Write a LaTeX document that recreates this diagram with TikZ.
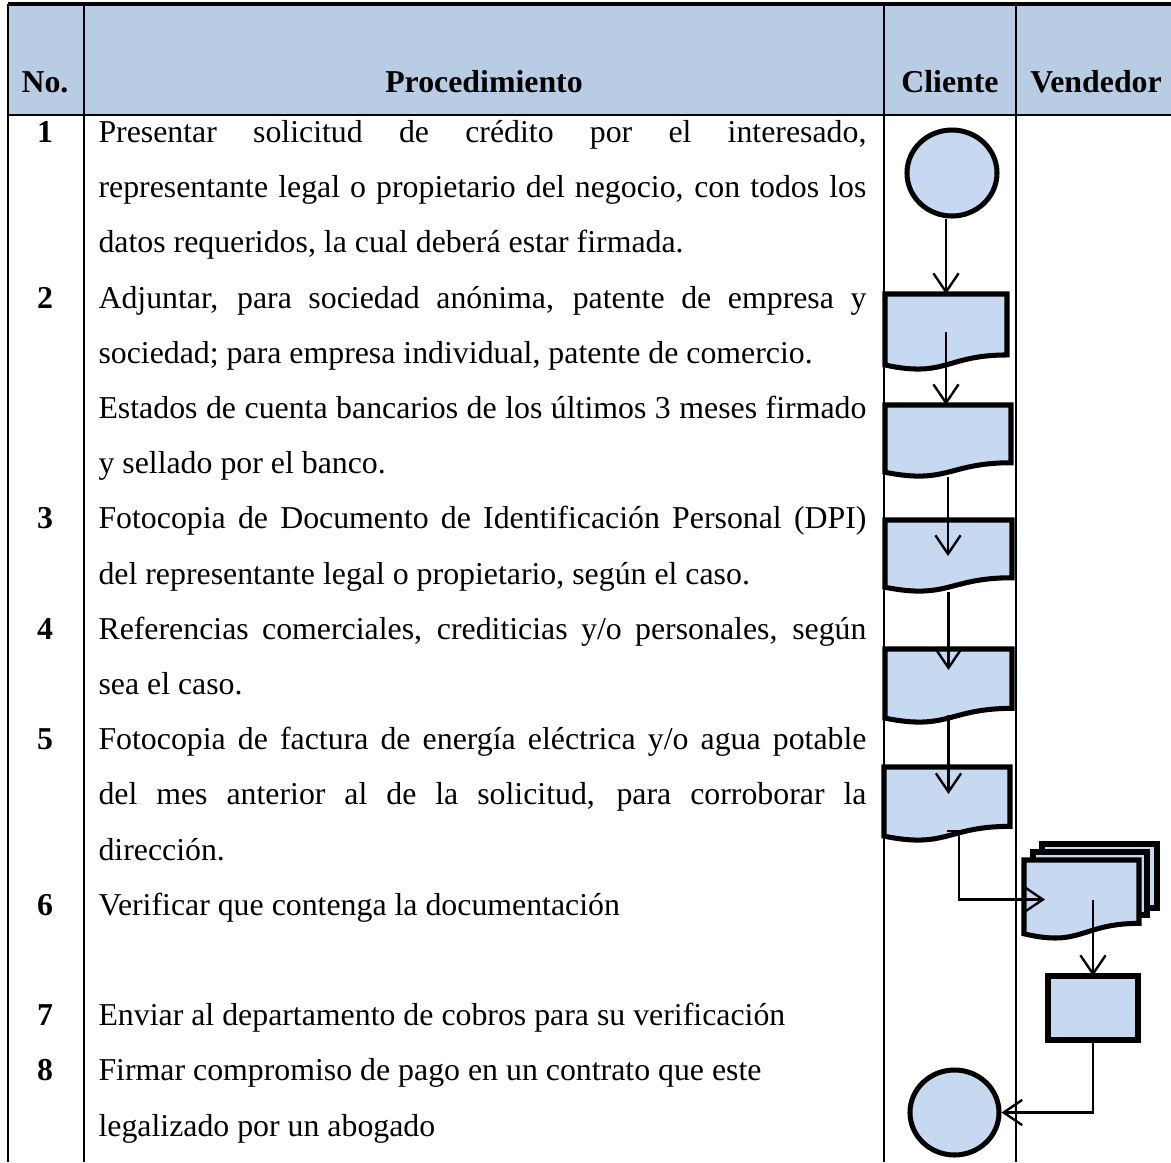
\documentclass[tikz,border=0pt]{standalone}
\usepackage{fontspec}
\setmainfont{Liberation Serif}
\usetikzlibrary{arrows.meta,calc,shapes.geometric}

\definecolor{headblue}{HTML}{B8CCE4}
\definecolor{shapeblue}{HTML}{C6D9F1}

\def\pxu{0.377pt}
\newcommand{\tf}{\fontsize{12}{14}\selectfont}
\newlength\jw
\setlength\jw{289.5pt}
\newcommand{\jl}[1]{\makebox[\jw][s]{#1}}
% document symbol with wavy bottom, drawn on a box node
\newcommand{\wavedoc}[1]{%
  \draw[shapeline] (#1.north west) -- (#1.north east)
    -- ($(#1.north east)!.802!(#1.south east)$)
    .. controls ($(#1.north)!.802!(#1.south)$) and ($(#1.north)!1.1075!(#1.south)$)
    .. ($(#1.north west)!.934!(#1.south west)$) -- cycle;}

\begin{document}
\begin{tikzpicture}[x=0.377pt,y=-0.377pt,
	rule/.style={line width=0.75pt},
	toprule/.style={line width=1.2pt},
	txt/.style={anchor=base west,inner sep=0pt,font=\tf},
	num/.style={anchor=base,inner sep=0pt,font=\tf\bfseries},
	head/.style={anchor=base,inner sep=0pt,font=\tf\bfseries},
	shapeline/.style={draw,line width=1.9pt,fill=shapeblue},
	docbox/.style 2 args={rectangle,inner sep=0pt,outer sep=0pt,minimum width=#1*\pxu,minimum height=#2*\pxu},
	endpt/.style 2 args={ellipse,shapeline,inner sep=0pt,minimum width=#1*\pxu,minimum height=#2*\pxu},
	flow/.style={line width=0.9pt,-{Straight Barb[length=7pt,width=9.5pt]}}]
		\useasboundingbox (0,0) rectangle (1171,1162);
		
		% table
		\fill[headblue] (8,4) rectangle (1171,115);
		\draw[toprule] (8,4) -- (1171,4);
		\draw[rule] (8,115) -- (1171,115);
		\draw[rule] (8,4) -- (8,1162);
		\draw[rule] (84,4) -- (84,1162);
		\draw[rule] (884,4) -- (884,1162);
		\draw[rule] (1016,4) -- (1016,1162);
		
		\node[head] (hno) at (45,92) {No.};
		\node[head] (hproc) at (484,92) {Procedimiento};
		\node[head] (hcli) at (950,92) {Cliente};
		\node[head] (hven) at (1096,92) {Vendedor};
		
		\node[num] (n1) at (45,142) {1};
		\node[num] (n2) at (45,308) {2};
		\node[num] (n3) at (45,528) {3};
		\node[num] (n4) at (45,639) {4};
		\node[num] (n5) at (45,749) {5};
		\node[num] (n6) at (45,915) {6};
		\node[num] (n7) at (45,1025) {7};
		\node[num] (n8) at (45,1080) {8};
		
		\node[txt] (p1a) at (98,142) {\jl{Presentar solicitud de crédito por el interesado,}};
		\node[txt] (p1b) at (98,197) {\jl{representante legal o propietario del negocio, con todos los}};
		\node[txt] (p1c) at (98,252) {datos requeridos, la cual deberá estar firmada.};
		\node[txt] (p2a) at (98,308) {\jl{Adjuntar, para sociedad anónima, patente de empresa y}};
		\node[txt] (p2b) at (98,363) {sociedad; para empresa individual, patente de comercio.};
		\node[txt] (p2c) at (98,418) {\jl{Estados de cuenta bancarios de los últimos 3 meses firmado}};
		\node[txt] (p2d) at (98,473) {y sellado por el banco.};
		\node[txt] (p3a) at (98,528) {\jl{Fotocopia de Documento de Identificación Personal (DPI)}};
		\node[txt] (p3b) at (98,584) {del representante legal o propietario, según el caso.};
		\node[txt] (p4a) at (98,639) {\jl{Referencias comerciales, crediticias y/o personales, según}};
		\node[txt] (p4b) at (98,694) {sea el caso.};
		\node[txt] (p5a) at (98,749) {\jl{Fotocopia de factura de energía eléctrica y/o agua potable}};
		\node[txt] (p5b) at (98,804) {\jl{del mes anterior al de la solicitud, para corroborar la}};
		\node[txt] (p5c) at (98,860) {dirección.};
		\node[txt] (p6a) at (98,915) {Verificar que contenga la documentación};
		\node[txt] (p7a) at (98,1025) {Enviar al departamento de cobros para su verificación};
		\node[txt] (p8a) at (98,1080) {Firmar compromiso de pago en un contrato que este};
		\node[txt] (p8b) at (98,1136) {legalizado por un abogado};
		
		% flow symbols
		\node[endpt={90}{86}] (s) at (952,173) {};
		\node[docbox={122}{76}] (d1) at (946,332) {};
		\node[docbox={126}{72}] (d2) at (948,441) {};
		\node[docbox={127}{72}] (d3) at (948.5,556) {};
		\node[docbox={127}{74}] (d4) at (948.5,686) {};
		\node[docbox={126}{74}] (d5) at (947,804) {};
		\wavedoc{d1}
		\wavedoc{d2}
		\wavedoc{d3}
		\wavedoc{d4}
		\wavedoc{d5}
		
		\node[shapeline,docbox={115}{64}] (m3) at (1099.5,876) {};
		\node[shapeline,docbox={114}{63}] (m2) at (1090,883.5) {};
		\node[docbox={115}{79}] (m) at (1081.5,899.5) {};
		\wavedoc{m}
		\node[shapeline,docbox={90}{64}] (r) at (1093,1008) {};
		\node[endpt={89}{85}] (e) at (954.5,1112.5) {};
		
		% connectors
		\draw[flow] (s.south -| d1.north) -- (d1.north);
		\draw[flow] (d1.center) -- (d1.center |- d2.north);
		\draw[flow] (d2.south) -- (d2.south |- d3.center);
		\draw[flow] (d3.south) -- ($(d3.south |- d4.north)+(0,21)$);
		\draw[flow] ($(d4.south)+(0,-8)$) -- ($(d4.south |- d5.north)+(0,27)$);
		\draw[flow] ($(d5.south)+(0,-10)$) -- ++(12,0) |- ($(m.west)+(21,0)$);
		\draw[flow] (m.center -| r.north) -- (r.north);
		\draw[flow] (r.south) |- (e.east);
	\end{tikzpicture}
\end{document}
